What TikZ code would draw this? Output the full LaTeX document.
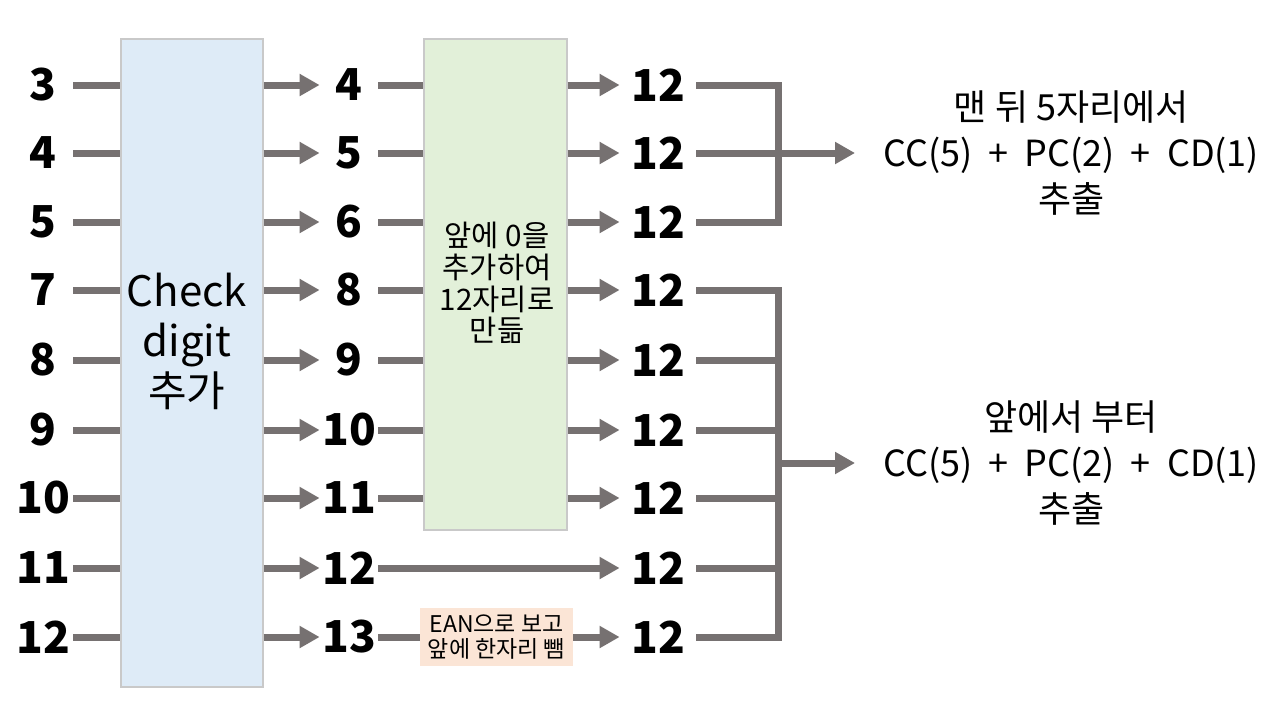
\documentclass[tikz,border=0pt]{standalone}
\usepackage{fontspec}
\setmainfont{Noto Sans CJK KR}
\usetikzlibrary{arrows.meta}
\definecolor{lgray}{HTML}{767171}
\definecolor{bluefill}{HTML}{DEEBF7}
\definecolor{greenfill}{HTML}{E2F0D9}
\definecolor{peachfill}{HTML}{FBE5D6}
\definecolor{boxborder}{HTML}{C9C9C9}
\begin{document}
\begin{tikzpicture}[x=0.5pt,y=-0.5pt,
  ln/.style={draw=lgray,line width=3.5pt},
  arr/.style={ln,-{Triangle[length=10pt,width=10.5pt]}},
  num/.style={font=\bfseries\fontsize{22}{22}\selectfont,inner sep=0pt,minimum height=20pt},
  lnum/.style={num,minimum width=30pt},
  mnum/.style={num,minimum width=29pt},
  rnum/.style={num,minimum width=38pt},
  bigbox/.style={draw=boxborder,line width=0.6pt,inner sep=0pt},
  rtext/.style={align=center,font=\fontsize{18}{23}\selectfont,inner xsep=14pt,anchor=west}
]
\useasboundingbox (0,0) rectangle (1280,720);
\fill[white] (0,0) rectangle (1280,720);

% boxes
\node[bigbox,fill=bluefill,minimum width=71pt,minimum height=324pt] (B1) at (192,363) {};
\node[bigbox,fill=greenfill,minimum width=71.5pt,minimum height=245.5pt] (B2) at (495.5,284.5) {};
\node[align=center,font=\fontsize{21}{25}\selectfont,inner sep=0pt] (CD) at (187,341) {Check\\digit\\추가};
\node[align=center,font=\fontsize{14.8}{15.8}\selectfont,inner sep=0pt] (ZT) at (497,283) {앞에 0을\\추가하여\\12자리로\\만듦};

% numbers
\foreach \y/\a/\b [count=\i] in {85/3/4,153/4/5,222/5/6,290/7/8,360/8/9,430/9/10,498/10/11,568/11/12,637/12/13}{
  \node[lnum] (L\i) at (43,\y) {\a};
  \node[mnum] (M\i) at (349,\y) {\b};
  \node[rnum] (R\i) at (658,\y) {12};
}

% EAN box
\node[fill=peachfill,minimum width=76.5pt,minimum height=29pt,inner sep=0pt,align=center,font=\fontsize{11.5}{12.5}\selectfont] (E) at (496.5,637) {EAN으로 보고\\앞에 한자리 뺌};

% connectors
\foreach \i in {1,...,9}{
  \draw[ln] (L\i.east) -- (L\i -| B1.west);
  \draw[arr] (M\i -| B1.east) -- (M\i.west);
}
\foreach \i in {1,...,7}{
  \draw[ln] (M\i.east) -- (M\i -| B2.west);
  \draw[arr] (M\i -| B2.east) -- (R\i.west);
}
\draw[arr] (M8.east) -- (R8.west);
\draw[ln] (M9.east) -- (E.west);
\draw[arr] (E.east) -- (R9.west);

% right texts
\node[rtext] (T1) at (855,153) {맨 뒤 5자리에서\\CC(5)~~+~~PC(2)~~+~~CD(1)\\추출};
\node[rtext] (T2) at (855,463) {앞에서 부터\\CC(5)~~+~~PC(2)~~+~~CD(1)\\추출};

% brackets
\coordinate (J1) at (778,153);
\coordinate (J2) at (778,463);
\draw[ln] (R1.east) -| (J1) |- (R3.east);
\draw[ln] (R2.east) -- (J1);
\draw[arr] (J1) -- (T1.west);
\draw[ln] (R4.east) -| (J2) |- (R9.east);
\foreach \i in {5,...,8}{
  \draw[ln] (R\i.east) -- (R\i -| J2);
}
\draw[arr] (J2) -- (T2.west);
\end{tikzpicture}
\end{document}
